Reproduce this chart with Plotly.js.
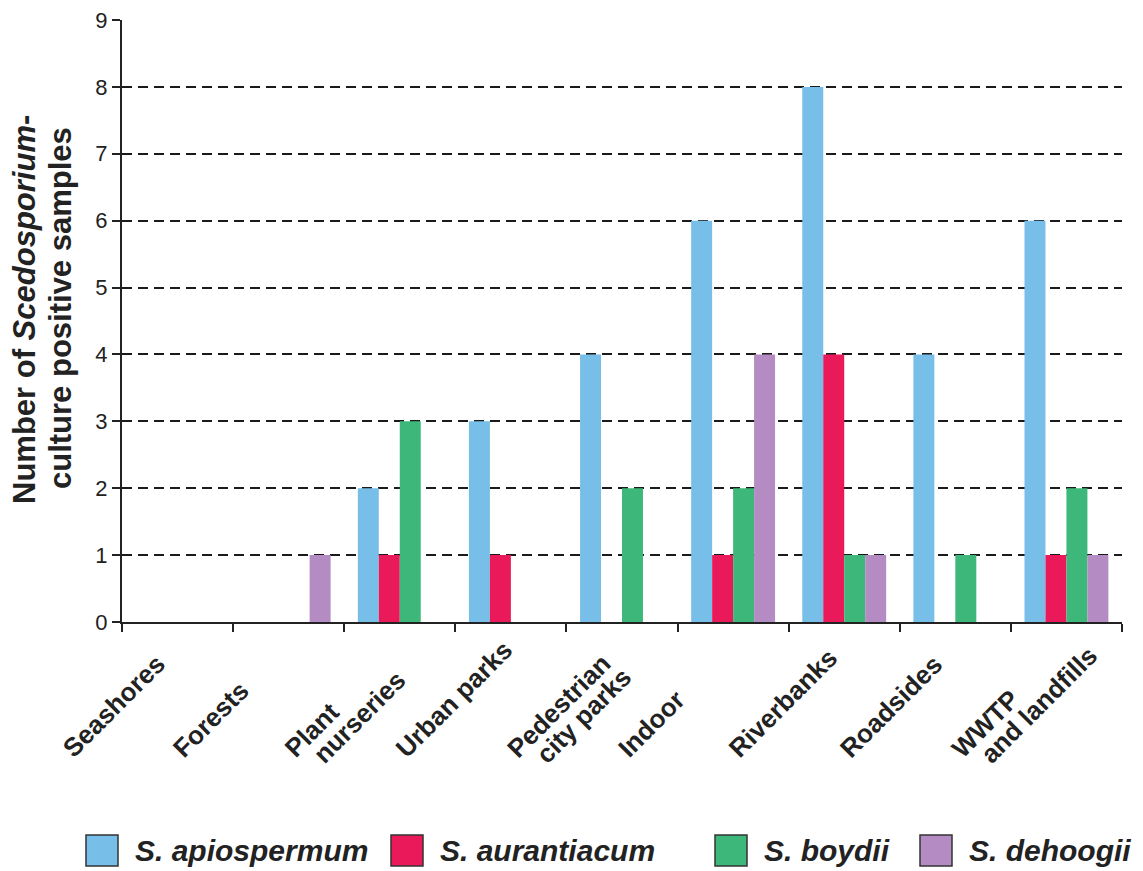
<!DOCTYPE html>
<html>
<head>
<meta charset="utf-8">
<script src="https://cdn.plot.ly/plotly-3.0.1.min.js"></script>
<style>html,body{margin:0;padding:0;background:#fff;}#chart{width:1143px;height:871px;}</style>
</head>
<body>
<div id="chart"></div>
<script>
// ---- data ----
const categories = ["Seashores", "Forests", "Plant nurseries", "Urban parks", "Pedestrian city parks", "Indoor", "Riverbanks", "Roadsides", "WWTP and landfills"];
const tickLabelLines = [["Seashores"], ["Forests"], ["Plant", "nurseries"], ["Urban parks"], ["Pedestrian", "city parks"], ["Indoor"], ["Riverbanks"], ["Roadsides"], ["WWTP", "and landfills"]];
const seriesNames = ["S. apiospermum", "S. aurantiacum", "S. boydii", "S. dehoogii"];
const apiospermum = [0, 0, 2, 3, 4, 6, 8, 4, 6];
const aurantiacum = [0, 0, 1, 1, 0, 1, 4, 0, 1];
const boydii      = [0, 0, 3, 0, 2, 2, 1, 1, 2];
const dehoogii    = [0, 1, 0, 0, 0, 4, 1, 0, 1];
const yTickVals = [0, 1, 2, 3, 4, 5, 6, 7, 8, 9];
const yTitleLines = ["Number of <i>Scedosporium</i>-", "culture positive samples"];

// ---- styles ----
const colors = ["#77bfe9", "#e9195a", "#3db87a", "#b48cc3"];
const FONT = "Liberation Sans, Arial, Helvetica, sans-serif";
const TXT = "#222222";

const seriesValues = [apiospermum, aurantiacum, boydii, dehoogii];
const traces = seriesValues.map((vals, k) => ({
  type: "bar",
  name: seriesNames[k],
  x: categories,
  y: vals,
  marker: { color: colors[k], line: { width: 0 } },
  showlegend: false
}));

// plot area in pixels
const L = 122, R = 21, T = 20, B = 249, W = 1143, H = 871;
const pw = W - L - R, ph = H - T - B;
const px = v => (v - L) / pw;
const py = v => (H - B - v) / ph;

const annotations = [];
const shapes = [];

// y-axis title (two rotated lines, tight spacing)
const yTitlePos = [[24, 310], [60, 308]];
yTitleLines.forEach((t, j) => {
  annotations.push({
    xref: "paper", yref: "paper", x: px(yTitlePos[j][0]), y: py(yTitlePos[j][1]),
    xanchor: "center", yanchor: "middle", textangle: -90, showarrow: false,
    text: "<b>" + t + "</b>",
    font: { family: FONT, size: 31, color: TXT }
  });
});

// category labels (rotated, left aligned, second line indented)
tickLabelLines.forEach((lines, i) => {
  lines.forEach((ln, j) => {
    annotations.push({
      xref: "x", yref: "paper", x: i, y: 0,
      xanchor: "left", yanchor: "bottom",
      xshift: -124 + j * 29, yshift: -144 - j * 6,
      textangle: -45,
      showarrow: false,
      text: "<b>" + ln + "</b>",
      font: { family: FONT, size: 26, color: TXT }
    });
  });
});

// legend (large boxes)
const legendBoxX = [86, 391, 715, 920];
seriesNames.forEach((nm, k) => {
  const x0 = legendBoxX[k];
  shapes.push({
    type: "rect", xref: "paper", yref: "paper",
    x0: px(x0), x1: px(x0 + 32), y0: py(866), y1: py(835),
    fillcolor: colors[k], line: { color: "#333333", width: 1.5 }
  });
  annotations.push({
    xref: "paper", yref: "paper", x: px(x0 + 47), y: py(850),
    xanchor: "left", yanchor: "middle", showarrow: false,
    text: "<b><i>" + nm + "</i></b>",
    font: { family: FONT, size: 30, color: TXT }
  });
});

const layout = {
  width: W, height: H,
  margin: { l: L, r: R, t: T, b: B, pad: 0 },
  paper_bgcolor: "#ffffff", plot_bgcolor: "#ffffff",
  font: { family: FONT, color: TXT },
  barmode: "group",
  bargap: 0.245,
  bargroupgap: 0,
  xaxis: {
    type: "category",
    range: [-0.5, categories.length - 0.5],
    showticklabels: false,
    ticks: "outside", tickson: "boundaries", ticklen: 8, tickwidth: 2, tickcolor: TXT,
    showline: true, linewidth: 2, linecolor: TXT,
    showgrid: false, zeroline: false, fixedrange: true
  },
  yaxis: {
    range: [0, 9],
    tickvals: yTickVals,
    ticktext: yTickVals.map(String),
    ticks: "outside", ticklen: 8, tickwidth: 2, tickcolor: TXT,
    tickfont: { family: FONT, size: 22, color: TXT },
    showline: true, linewidth: 2, linecolor: TXT,
    showgrid: true, gridcolor: "#1a1a1a", gridwidth: 2, griddash: "10px,6px",
    zeroline: false, fixedrange: true
  },
  annotations: annotations,
  shapes: shapes
};

Plotly.newPlot("chart", traces, layout, { displayModeBar: false, staticPlot: true });
</script>
</body>
</html>
